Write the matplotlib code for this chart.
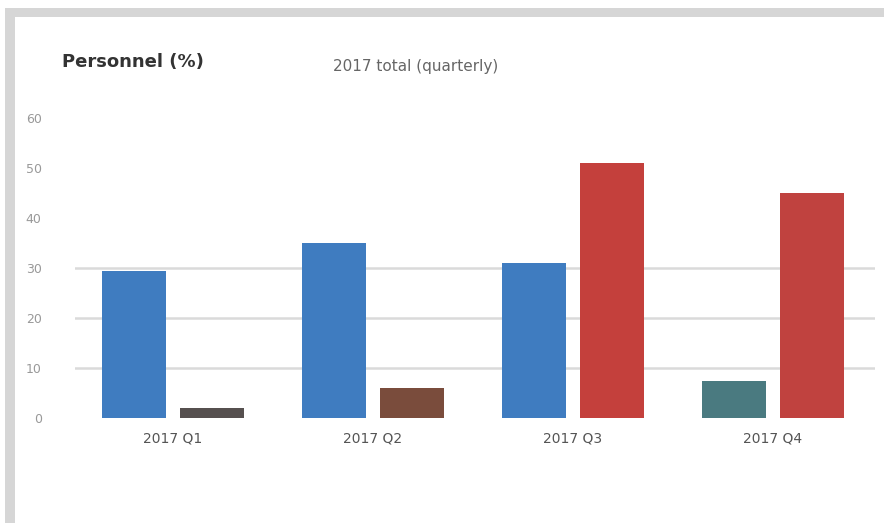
import matplotlib
matplotlib.use("Agg")
import matplotlib.pyplot as plt
import numpy as np

categories = ["2017 Q1", "2017 Q2", "2017 Q3", "2017 Q4"]
series_a = [29.5, 35.0, 31.0, 7.5]
series_b = [2.0, 6.0, 51.0, 45.0]
colors_a = ["#3f7cc0", "#3f7cc0", "#3f7cc0", "#4a7a80"]
colors_b = ["#56504f", "#7a4c3c", "#c4403c", "#c0423f"]
y_ticks = [0, 10, 20, 30, 40, 50, 60]
grid_values = [10, 20, 30]

fig = plt.figure(figsize=(8.84, 5.23), dpi=100)
fig.patch.set_facecolor("white")

# screenshot-like frame (top and left bands)
fig.add_artist(plt.Rectangle((5 / 884, 0), 10 / 884, 1 - 8 / 523,
                             transform=fig.transFigure, color="#d6d6d6", lw=0))
fig.add_artist(plt.Rectangle((5 / 884, 1 - 17 / 523), 1, 9 / 523,
                             transform=fig.transFigure, color="#d6d6d6", lw=0))

ax = fig.add_axes([75 / 884, 105 / 523, 800 / 884, 308 / 523])
x = np.arange(len(categories))
w = 0.32
off = 0.195
ax.bar(x - off, series_a, width=w, color=colors_a, zorder=3)
ax.bar(x + off, series_b, width=w, color=colors_b, zorder=3)
for g in grid_values:
    ax.axhline(g, color="#dadada", lw=1.8, zorder=1)

ax.set_xlim(-0.49, 3.51)
ax.set_ylim(0, 61.6)
ax.set_xticks(x)
ax.set_xticklabels(categories, fontsize=10, color="#555555")
ax.set_yticks(y_ticks)
ax.set_yticklabels([str(v) for v in y_ticks], fontsize=9, color="#999999")
ax.tick_params(axis="x", length=0, pad=10)
ax.tick_params(axis="y", length=0, pad=24)
for s in ax.spines.values():
    s.set_visible(False)

fig.text(62 / 884, 1 - 62 / 523, "Personnel (%)", fontsize=13,
         fontweight="bold", color="#333333", va="center")
fig.text(333 / 884, 1 - 66 / 523, "2017 total (quarterly)", fontsize=11,
         color="#666666", va="center")

fig.savefig("out.png", dpi=100, facecolor="white")
